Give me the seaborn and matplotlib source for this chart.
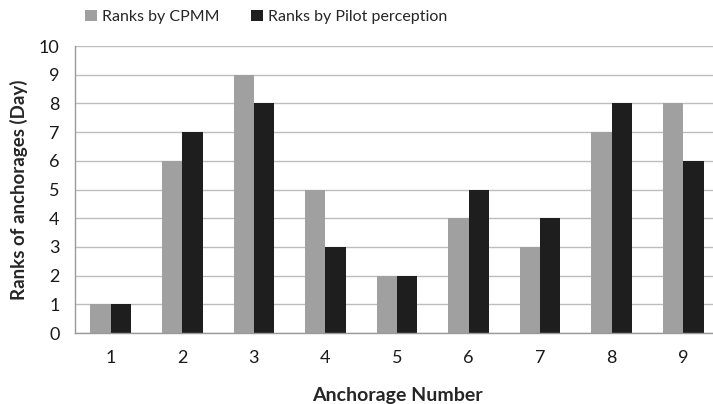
import matplotlib
matplotlib.use("Agg")
import matplotlib.pyplot as plt
import seaborn as sns
import pandas as pd
import numpy as np

anchorages = ["1", "2", "3", "4", "5", "6", "7", "8", "9"]
cpmm = [1, 6, 9, 5, 2, 4, 3, 7, 8]
pilot = [1, 7, 8, 3, 2, 5, 4, 8, 6]
series_names = ["Ranks by CPMM", "Ranks by Pilot perception"]
colors = ["#a0a0a0", "#1e1e1e"]

df = pd.DataFrame({
    "Anchorage": anchorages * 2,
    "Rank": cpmm + pilot,
    "Series": [series_names[0]] * len(anchorages) + [series_names[1]] * len(anchorages),
})

sns.set_theme(style="white")
plt.rcParams["font.family"] = ["Lato", "DejaVu Sans"]

fig = plt.figure(figsize=(7.13, 4.04), dpi=100)
ax = fig.add_axes([75 / 713, 71 / 404, 644 / 713, 287 / 404])

sns.barplot(data=df, x="Anchorage", y="Rank", hue="Series", palette=colors,
            width=0.567, gap=0, saturation=1, linewidth=0, ax=ax, legend=True)

ax.set_ylim(0, 10)
ax.set_xlim(-0.5, len(anchorages) - 0.5)
ax.set_yticks(range(0, 11))
ax.yaxis.grid(True, color="#bdbdbd", linewidth=1.0)
ax.set_axisbelow(True)
for s in ["top", "right"]:
    ax.spines[s].set_visible(False)
for s in ["left", "bottom"]:
    ax.spines[s].set_color("#9a9a9a")
    ax.spines[s].set_linewidth(1.0)

ax.set_xticks(np.arange(len(anchorages)))
ax.set_xticklabels(anchorages)
ax.set_xticks(np.arange(-0.5, len(anchorages), 1.0), minor=True)
ax.tick_params(axis="x", which="major", length=0, pad=12, labelsize=13, colors="#1a1a1a")
ax.tick_params(axis="x", which="minor", length=5, width=1, color="#9a9a9a", direction="out")
ax.tick_params(axis="y", which="major", length=5, width=1, color="#9a9a9a", direction="out",
               labelsize=13, colors="#1a1a1a", pad=6)

ax.set_xlabel("Anchorage Number", fontsize=14, fontweight="bold", labelpad=15)
ax.set_ylabel("Ranks of anchorages (Day)", fontsize=13.5, fontweight="bold", labelpad=8)

handles, labels = ax.get_legend_handles_labels()
ax.legend(handles, labels, loc="center", bbox_to_anchor=(266 / 713, 1 - 17 / 404),
          bbox_transform=fig.transFigure, ncol=2, frameon=False, fontsize=11.5,
          handlelength=0.75, handleheight=0.75, handletextpad=0.3, columnspacing=2.0)

fig.savefig("out.png", dpi=100)
